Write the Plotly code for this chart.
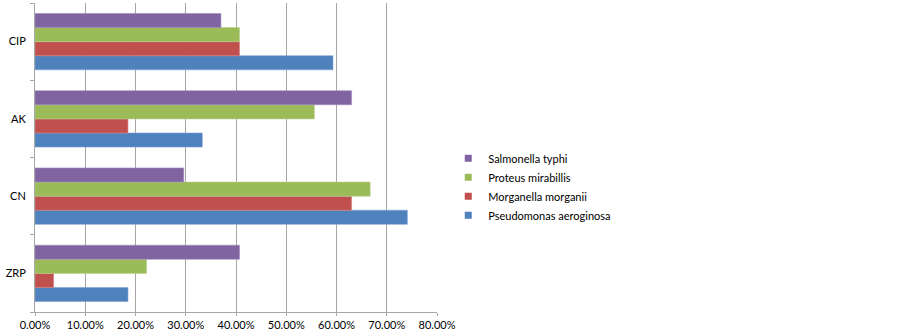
import plotly.graph_objects as go

categories = ["ZRP", "CN", "AK", "CIP"]
series_names = ["Pseudomonas aeroginosa", "Morganella morganii", "Proteus mirabillis", "Salmonella typhi"]
pseudomonas = [0.185, 0.741, 0.333, 0.593]
morganella = [0.037, 0.630, 0.185, 0.407]
proteus = [0.222, 0.667, 0.556, 0.407]
salmonella = [0.407, 0.296, 0.630, 0.370]
x_ticks = [0, 0.1, 0.2, 0.3, 0.4, 0.5, 0.6, 0.7, 0.8]

values = [pseudomonas, morganella, proteus, salmonella]
colors = ["#4F81BD", "#C0504D", "#9BBB59", "#8064A2"]
borders = ["#7FA3D2", "#D88280", "#B7D08B", "#A08BBE"]

fig = go.Figure()
for name, vals, c, b in zip(series_names, values, colors, borders):
    fig.add_trace(go.Bar(
        y=categories, x=vals, name=name, orientation="h",
        marker=dict(color=c, line=dict(color=b, width=0.6)),
        legendgroup=name, showlegend=False,
    ))
# legend entries with small square swatches
for name, c in zip(series_names, colors):
    fig.add_trace(go.Scatter(
        x=[None], y=[None], mode="markers", name=name, legendgroup=name,
        marker=dict(symbol="square", size=7, color=c), showlegend=True,
    ))

font_family = "Lato, 'Open Sans', sans-serif"
fig.update_layout(
    barmode="group", bargap=0.27, bargroupgap=0,
    width=903, height=336,
    margin=dict(l=35, r=466, t=3, b=24),
    plot_bgcolor="white", paper_bgcolor="white",
    font=dict(family=font_family, size=11, color="#000"),
    showlegend=True,
    legend=dict(traceorder="reversed", x=1.028, xanchor="left", y=0.405, yanchor="middle",
                font=dict(size=11, color="#000"), itemwidth=30, tracegroupgap=6,
                bgcolor="rgba(0,0,0,0)"),
    xaxis=dict(range=[0, 0.8], tickvals=x_ticks, tickformat=".2%",
               showgrid=True, gridcolor="#A6A6A6", gridwidth=1, automargin=False,
               showline=True, linecolor="#A6A6A6", ticks="outside", ticklen=3, tickcolor="#A6A6A6",
               tickfont=dict(size=11, family=font_family), zeroline=False),
    yaxis=dict(showline=True, linecolor="#A6A6A6", ticks="outside", ticklen=4, tickcolor="#A6A6A6",
               tickson="boundaries", tickfont=dict(size=11, family=font_family), automargin=False,
               ticklabelstandoff=6, showgrid=False),
)
fig.write_html("out.html", config={"displayModeBar": False},
               post_script="document.body.style.margin='0';document.body.style.padding='0';")
